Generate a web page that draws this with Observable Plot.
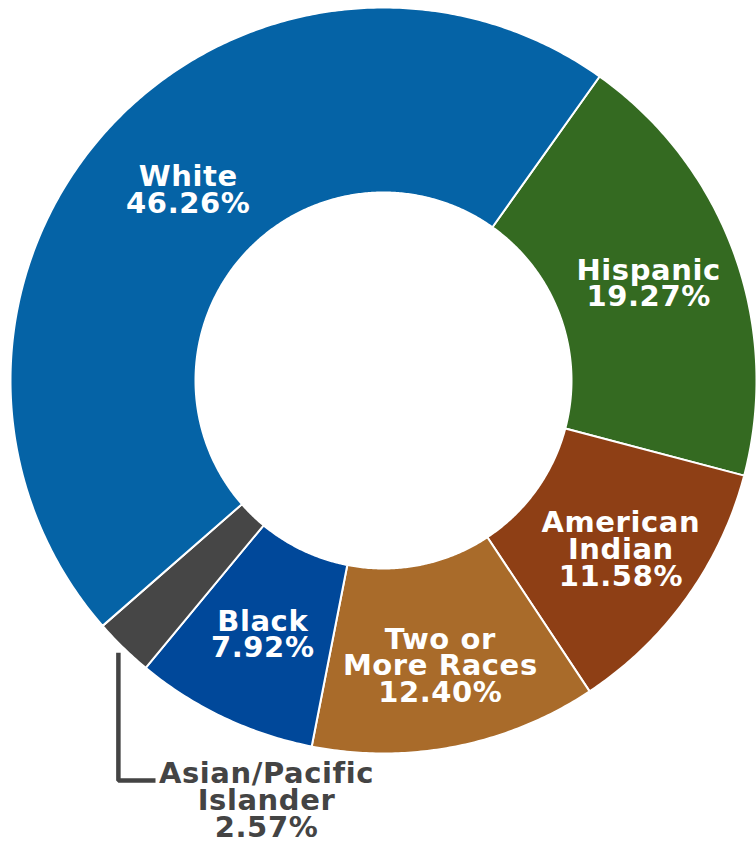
<!DOCTYPE html>
<html>
<head>
<meta charset="utf-8">
<script src="https://cdn.jsdelivr.net/npm/d3@7"></script>
<script src="https://cdn.jsdelivr.net/npm/@observablehq/plot@0.6"></script>
<style>
  html, body { margin: 0; padding: 0; background: #fff; }
  #chart svg { display: block; }
</style>
</head>
<body>
<div id="chart"></div>
<script>
// Data (clockwise order, starting with Hispanic)
const categories = ["Hispanic", "American Indian", "Two or More Races", "Black", "Asian/Pacific Islander", "White"];
const labels = ["Hispanic", "American\nIndian", "Two or\nMore Races", "Black", "Asian/Pacific\nIslander", "White"];
const shares = [19.27, 11.58, 12.40, 7.92, 2.57, 46.26];
const colors = ["#346A21", "#8E3F15", "#A96B2A", "#00489A", "#464646", "#0563A6"];

const W = 756, H = 841;
const cx = 383, cy = 380;
const rOuter = 373, rInner = 188;
const startDeg = 35.4; // clockwise from north
const total = d3.sum(shares);

const toRad = d => d * Math.PI / 180;
let acc = startDeg;
const slices = categories.map((c, i) => {
  const a0 = acc, a1 = acc + shares[i] / total * 360;
  acc = a1;
  return {cat: c, label: labels[i], value: shares[i], a0, a1, mid: (a0 + a1) / 2};
});
const pts = [];
for (const s of slices) {
  const n = Math.max(2, Math.ceil((s.a1 - s.a0) / 0.5));
  for (let k = 0; k <= n; k++) {
    const a = toRad(s.a0 + (s.a1 - s.a0) * k / n);
    pts.push({cat: s.cat, x: rOuter * Math.sin(a), y: rOuter * Math.cos(a)});
  }
  for (let k = n; k >= 0; k--) {
    const a = toRad(s.a0 + (s.a1 - s.a0) * k / n);
    pts.push({cat: s.cat, x: rInner * Math.sin(a), y: rInner * Math.cos(a)});
  }
}
const inside = slices.filter(s => s.cat !== "Asian/Pacific Islander").map(s => {
  const r = s.cat === "White" ? 272 : (s.cat === "Black" || s.cat === "Hispanic") ? 282 : 292;
  const a = toRad(s.cat === "White" ? s.mid + 2 : s.mid);
  return {x: r * Math.sin(a), y: r * Math.cos(a), text: s.label + "\n" + s.value.toFixed(2) + "%"};
});
const asian = slices.find(s => s.cat === "Asian/Pacific Islander");
const la = toRad(asian.mid);
const lx0 = 380 * Math.sin(la), ly0 = 380 * Math.cos(la);
const leader = [
  {x: lx0, y: ly0},
  {x: lx0, y: cy - 780},
  {x: 155 - cx, y: cy - 780}
];
const outside = [{x: 266 - cx, y: cy - 801, text: asian.label + "\n" + asian.value.toFixed(2) + "%"}];

const chart = Plot.plot({
  width: W, height: H,
  margin: 0,
  style: {letterSpacing: "0.6px"},
  x: {domain: [-cx, W - cx], axis: null},
  y: {domain: [cy - H, cy], axis: null},
  color: {domain: categories, range: colors},
  marks: [
    Plot.line(pts, {x: "x", y: "y", z: "cat", fill: "cat", stroke: "white", strokeWidth: 2, curve: "linear-closed", strokeLinejoin: "round"}),
    Plot.line(leader, {x: "x", y: "y", stroke: "#444", strokeWidth: 4.5, strokeLinejoin: "miter", strokeLinecap: "butt"}),
    Plot.text(inside, {x: "x", y: "y", text: "text", fill: "white", fontSize: 29, fontWeight: "bold", fontFamily: "DejaVu Sans", lineHeight: 0.92}),
    Plot.text(outside, {x: "x", y: "y", text: "text", fill: "#444", fontSize: 29, fontWeight: "bold", fontFamily: "DejaVu Sans", lineHeight: 0.92})
  ]
});
document.getElementById("chart").appendChild(chart);
</script>
</body>
</html>
